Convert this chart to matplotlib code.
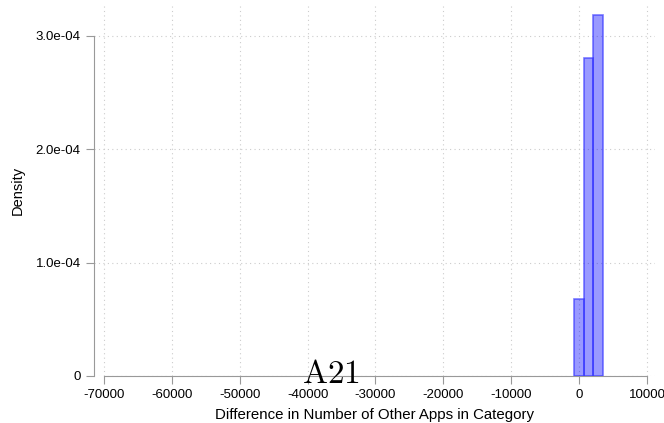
import matplotlib
matplotlib.use('Agg')
import matplotlib.pyplot as plt

# histogram bins
bin_edges = [-824, 647, 2118, 3588]
densities = [0.676e-4, 2.80e-4, 3.18e-4]

x_ticks = [-70000, -60000, -50000, -40000, -30000, -20000, -10000, 0, 10000]
x_labels = ['-70000', '-60000', '-50000', '-40000', '-30000', '-20000', '-10000', '0', '10000']
y_ticks = [0, 1e-4, 2e-4, 3e-4]
y_labels = ['0', '1.0e-04', '2.0e-04', '3.0e-04']

plt.rcParams['font.family'] = ['Liberation Sans', 'DejaVu Sans']
plt.rcParams['mathtext.fontset'] = 'cm'

fig = plt.figure(figsize=(6.64, 4.23), dpi=100)
ax = fig.add_axes([94 / 664, 1 - 376 / 423, (655 - 94) / 664, (376 - 5) / 423])

widths = [bin_edges[i + 1] - bin_edges[i] for i in range(len(densities))]
ax.bar(bin_edges[:-1], densities, width=widths, align='edge',
       facecolor=(0, 0, 1, 0.4), edgecolor=(0.2, 0.2, 1, 0.65), linewidth=1.2, zorder=3)

ax.set_xlim(-71470, 11180)
ax.set_ylim(0, 3.27e-4)

ax.set_xticks(x_ticks)
ax.set_xticklabels(x_labels)
ax.set_yticks(y_ticks)
ax.set_yticklabels(y_labels)

ax.grid(True, color='#cccccc', linestyle=(0, (1, 3)), linewidth=0.8, zorder=0)

for s in ['top', 'right']:
    ax.spines[s].set_visible(False)
ax.spines['left'].set_color('#999999')
ax.spines['bottom'].set_color('#999999')
ax.spines['left'].set_bounds(0, 3e-4)
ax.spines['bottom'].set_bounds(-70000, 10000)
ax.tick_params(axis='both', colors='#999999', labelcolor='black', length=6, labelsize=9.5)

ax.set_xlabel('Difference in Number of Other Apps in Category', fontsize=10.8, labelpad=5)
ax.set_ylabel('Density', fontsize=10.5, labelpad=8)

fig.text(331 / 664, 1 - 383 / 423, r'$\mathrm{A21}$', fontsize=24, ha='center', va='baseline')

fig.savefig('out.png', dpi=100)
